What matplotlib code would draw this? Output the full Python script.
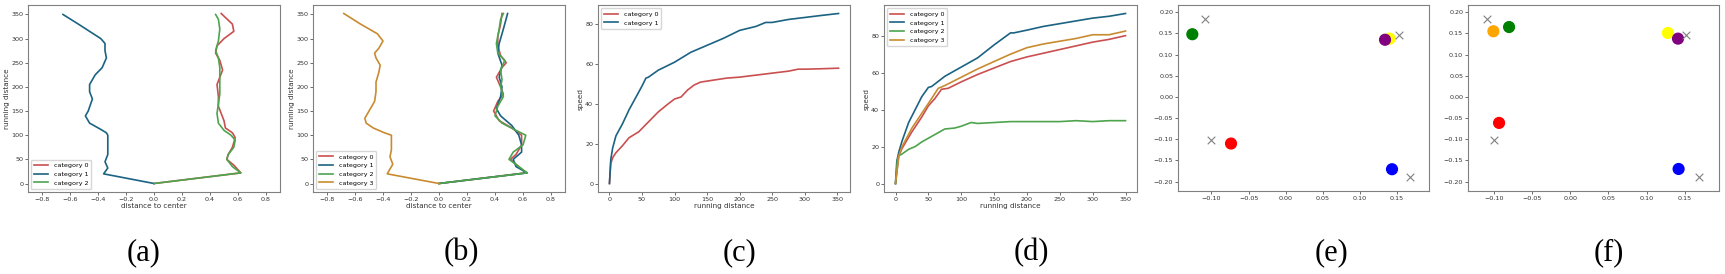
import matplotlib.pyplot as plt

# colours of the categories
cat_colors = ['#c9504f', '#1b6382', '#4da44d', '#c98b30']
cat_names = ['category 0', 'category 1', 'category 2', 'category 3']

# (a) distance to center vs running distance
a_cat0_x = [0.0, 0.62, 0.57, 0.52, 0.53, 0.56, 0.58, 0.56, 0.51, 0.50, 0.48, 0.46, 0.46, 0.45, 0.47, 0.49, 0.47, 0.44, 0.45, 0.50, 0.57, 0.56, 0.48]
a_cat0_y = [0, 22, 38, 50, 60, 75, 95, 105, 115, 130, 145, 160, 180, 205, 220, 235, 255, 270, 285, 300, 315, 330, 352]
a_cat1_x = [0.0, -0.36, -0.33, -0.35, -0.33, -0.33, -0.34, -0.38, -0.46, -0.49, -0.47, -0.44, -0.46, -0.46, -0.42, -0.37, -0.34, -0.35, -0.35, -0.38, -0.46, -0.54, -0.65]
a_cat1_y = [0, 20, 32, 45, 60, 100, 105, 112, 125, 140, 150, 175, 190, 205, 225, 240, 260, 275, 290, 300, 315, 330, 350]
a_cat2_x = [0.0, 0.62, 0.56, 0.52, 0.53, 0.57, 0.58, 0.55, 0.50, 0.46, 0.45, 0.46, 0.47, 0.47, 0.47, 0.46, 0.44, 0.46, 0.47, 0.46, 0.44]
a_cat2_y = [0, 22, 35, 50, 60, 75, 90, 100, 110, 125, 145, 165, 185, 210, 240, 260, 275, 295, 320, 340, 350]

# (b)
b_cat0_x = [0.0, 0.62, 0.57, 0.51, 0.55, 0.59, 0.59, 0.52, 0.43, 0.39, 0.42, 0.46, 0.44, 0.41, 0.45, 0.48, 0.44, 0.42, 0.42, 0.44, 0.45]
b_cat0_y = [0, 22, 35, 50, 60, 80, 100, 115, 130, 150, 170, 185, 200, 220, 240, 250, 265, 285, 305, 330, 352]
b_cat1_x = [0.0, 0.63, 0.55, 0.53, 0.59, 0.59, 0.57, 0.52, 0.44, 0.41, 0.44, 0.45, 0.43, 0.45, 0.42, 0.43, 0.46, 0.49]
b_cat1_y = [0, 22, 35, 50, 65, 80, 100, 120, 140, 155, 180, 200, 220, 245, 270, 290, 320, 352]
b_cat2_x = [0.0, 0.63, 0.57, 0.50, 0.53, 0.60, 0.62, 0.55, 0.45, 0.40, 0.42, 0.46, 0.44, 0.45, 0.44, 0.47, 0.42, 0.41, 0.43, 0.44, 0.46]
b_cat2_y = [0, 22, 35, 50, 65, 80, 100, 110, 125, 140, 160, 180, 200, 215, 235, 255, 270, 290, 320, 340, 352]
b_cat3_x = [0.0, -0.37, -0.35, -0.33, -0.35, -0.34, -0.34, -0.39, -0.47, -0.52, -0.53, -0.50, -0.46, -0.45, -0.45, -0.43, -0.42, -0.45, -0.46, -0.43, -0.40, -0.44, -0.56, -0.68]
b_cat3_y = [0, 20, 30, 40, 55, 70, 100, 105, 115, 125, 135, 150, 170, 190, 210, 230, 245, 260, 270, 280, 295, 310, 330, 352]

# (c) speed vs running distance
c_cat0_x = [0, 2, 5, 10, 20, 30, 45, 60, 75, 90, 100, 110, 120, 130, 140, 160, 180, 200, 225, 250, 275, 290, 300, 325, 352]
c_cat0_y = [0, 10, 13, 15.5, 19, 23, 26, 31, 36, 40, 42.5, 43.5, 47, 49.5, 51, 52, 53, 53.5, 54.5, 55.5, 56.5, 57.5, 57.5, 57.7, 58]
c_cat1_x = [0, 2, 5, 10, 20, 30, 40, 50, 56, 60, 75, 100, 125, 150, 175, 200, 225, 240, 250, 275, 300, 325, 352]
c_cat1_y = [0, 12, 18, 24, 30, 37, 43, 49, 53, 53.5, 57, 61, 66, 69.5, 73, 77, 79, 81, 81, 82.5, 83.5, 84.5, 85.5]

# (d)
d_cat0_x = [0, 5, 10, 25, 40, 50, 60, 70, 80, 100, 125, 150, 175, 200, 225, 250, 275, 300, 325, 350]
d_cat0_y = [0, 15, 19, 28, 36, 42, 46, 51, 51.5, 55, 59, 62.5, 66, 68.5, 70.5, 72.5, 74.5, 76.5, 78, 80]
d_cat1_x = [0, 2, 5, 10, 20, 30, 40, 50, 55, 75, 100, 125, 150, 175, 180, 200, 225, 250, 275, 300, 325, 350]
d_cat1_y = [0, 12, 17, 23, 33, 40, 47, 52, 52.5, 58, 63, 68, 75, 81.5, 81.5, 83, 85, 86.5, 88, 89.5, 90.5, 92]
d_cat2_x = [0, 3, 5, 10, 20, 30, 40, 50, 60, 70, 75, 90, 100, 115, 125, 150, 175, 200, 250, 275, 300, 325, 350]
d_cat2_y = [0, 13, 15, 16, 18.5, 20, 22.5, 24.5, 26.5, 28.5, 29.5, 30, 31, 33, 32.5, 33, 33.5, 33.5, 33.5, 34, 33.5, 34, 34]
d_cat3_x = [0, 5, 10, 25, 40, 55, 65, 75, 100, 125, 150, 175, 200, 225, 250, 275, 300, 325, 350]
d_cat3_y = [0, 15, 20, 30, 38, 46, 51.5, 53, 57.5, 62, 66, 70, 73.5, 75.5, 77, 78.5, 80.5, 80.5, 82.5]

# (e), (f) embeddings
e_pt_x = [-0.1257, -0.0736, 0.140, 0.1338, 0.1432]
e_pt_y = [0.148, -0.110, 0.1376, 0.135, -0.1706]
e_pt_c = ['green', 'red', 'yellow', 'purple', 'blue']
f_pt_x = [-0.1003, -0.0798, 0.1278, 0.141, -0.0929, 0.1418]
f_pt_y = [0.155, 0.165, 0.151, 0.1376, -0.0613, -0.170]
f_pt_c = ['orange', 'green', 'yellow', 'purple', 'red', 'blue']
centre_x = [-0.109, -0.100, 0.152, 0.168]
centre_y = [0.183, -0.102, 0.147, -0.190]

panel_labels = ['(a)', '(b)', '(c)', '(d)', '(e)', '(f)']

fig = plt.figure(figsize=(17.25, 2.74), dpi=100)

LW = 1.2

def style(ax):
    for s in ax.spines.values():
        s.set_color('#808080')
        s.set_linewidth(0.8)
    ax.tick_params(labelsize=4.6, length=2, width=0.5, pad=1.5,
                   colors='#333333')

def make_ax(px_left, px_right, px_top, px_bottom):
    ax = fig.add_axes([px_left / 1725, 1 - px_bottom / 274,
                       (px_right - px_left) / 1725, (px_bottom - px_top) / 274])
    style(ax)
    return ax

def line(ax, xs, ys, i):
    ax.plot(xs, ys, color=cat_colors[i], lw=LW, label=cat_names[i],
            solid_joinstyle='round')

# (a)
ax = make_ax(28, 280, 5, 192)
line(ax, a_cat0_x, a_cat0_y, 0)
line(ax, a_cat1_x, a_cat1_y, 1)
line(ax, a_cat2_x, a_cat2_y, 2)
ax.set_xlim(-0.9, 0.9)
ax.set_xticks([-0.8, -0.6, -0.4, -0.2, 0.0, 0.2, 0.4, 0.6, 0.8])
ax.set_xlabel('distance to center', fontsize=5.2, labelpad=1, color='#333333')
ax.set_ylabel('running distance', fontsize=5.2, labelpad=1, color='#333333')
ax.legend(loc='lower left', fontsize=4.6, handlelength=2.2, borderpad=0.5)

# (b)
ax = make_ax(313, 565, 5, 192)
line(ax, b_cat0_x, b_cat0_y, 0)
line(ax, b_cat1_x, b_cat1_y, 1)
line(ax, b_cat2_x, b_cat2_y, 2)
line(ax, b_cat3_x, b_cat3_y, 3)
ax.set_xlim(-0.9, 0.9)
ax.set_xticks([-0.8, -0.6, -0.4, -0.2, 0.0, 0.2, 0.4, 0.6, 0.8])
ax.set_xlabel('distance to center', fontsize=5.2, labelpad=1, color='#333333')
ax.set_ylabel('running distance', fontsize=5.2, labelpad=1, color='#333333')
ax.legend(loc='lower left', fontsize=4.6, handlelength=2.2, borderpad=0.5)

# (c)
ax = make_ax(598, 850, 5, 192)
line(ax, c_cat0_x, c_cat0_y, 0)
line(ax, c_cat1_x, c_cat1_y, 1)
ax.set_xlabel('running distance', fontsize=5.2, labelpad=1, color='#333333')
ax.set_ylabel('speed', fontsize=5.2, labelpad=1, color='#333333')
ax.legend(loc='upper left', fontsize=4.6, handlelength=2.2, borderpad=0.5)

# (d)
ax = make_ax(884, 1137, 5, 192)
line(ax, d_cat0_x, d_cat0_y, 0)
line(ax, d_cat1_x, d_cat1_y, 1)
line(ax, d_cat2_x, d_cat2_y, 2)
line(ax, d_cat3_x, d_cat3_y, 3)
ax.set_xlabel('running distance', fontsize=5.2, labelpad=1, color='#333333')
ax.set_ylabel('speed', fontsize=5.2, labelpad=1, color='#333333')
ax.legend(loc='upper left', fontsize=4.6, handlelength=2.2, borderpad=0.5)

# (e)
ax = make_ax(1178, 1429, 5, 191)
ax.scatter(e_pt_x, e_pt_y, c=e_pt_c, s=60, zorder=2)
ax.scatter(centre_x, centre_y, marker='x', c='gray', s=30, linewidths=0.8, zorder=3)
ax.set_xlim(-0.145, 0.193)
ax.set_ylim(-0.222, 0.217)
ax.set_xticks([-0.10, -0.05, 0.00, 0.05, 0.10, 0.15])
ax.set_yticks([-0.20, -0.15, -0.10, -0.05, 0.00, 0.05, 0.10, 0.15, 0.20])
ax.xaxis.set_major_formatter('{x:.2f}')
ax.yaxis.set_major_formatter('{x:.2f}')

# (f)
ax = make_ax(1468, 1719, 5, 191)
ax.scatter(f_pt_x, f_pt_y, c=f_pt_c, s=60, zorder=2)
ax.scatter(centre_x, centre_y, marker='x', c='gray', s=30, linewidths=0.8, zorder=3)
ax.set_xlim(-0.1335, 0.1946)
ax.set_ylim(-0.222, 0.217)
ax.set_xticks([-0.10, -0.05, 0.00, 0.05, 0.10, 0.15])
ax.set_yticks([-0.20, -0.15, -0.10, -0.05, 0.00, 0.05, 0.10, 0.15, 0.20])
ax.xaxis.set_major_formatter('{x:.2f}')
ax.yaxis.set_major_formatter('{x:.2f}')

# panel captions
label_x = [144, 461, 739, 1031, 1332, 1609]
for lx, txt in zip(label_x, panel_labels):
    fig.text(lx / 1725, 1 - 253 / 274, txt, ha='center', va='center',
             fontsize=22, family='Liberation Serif')

plt.savefig('out.png', dpi=100)
